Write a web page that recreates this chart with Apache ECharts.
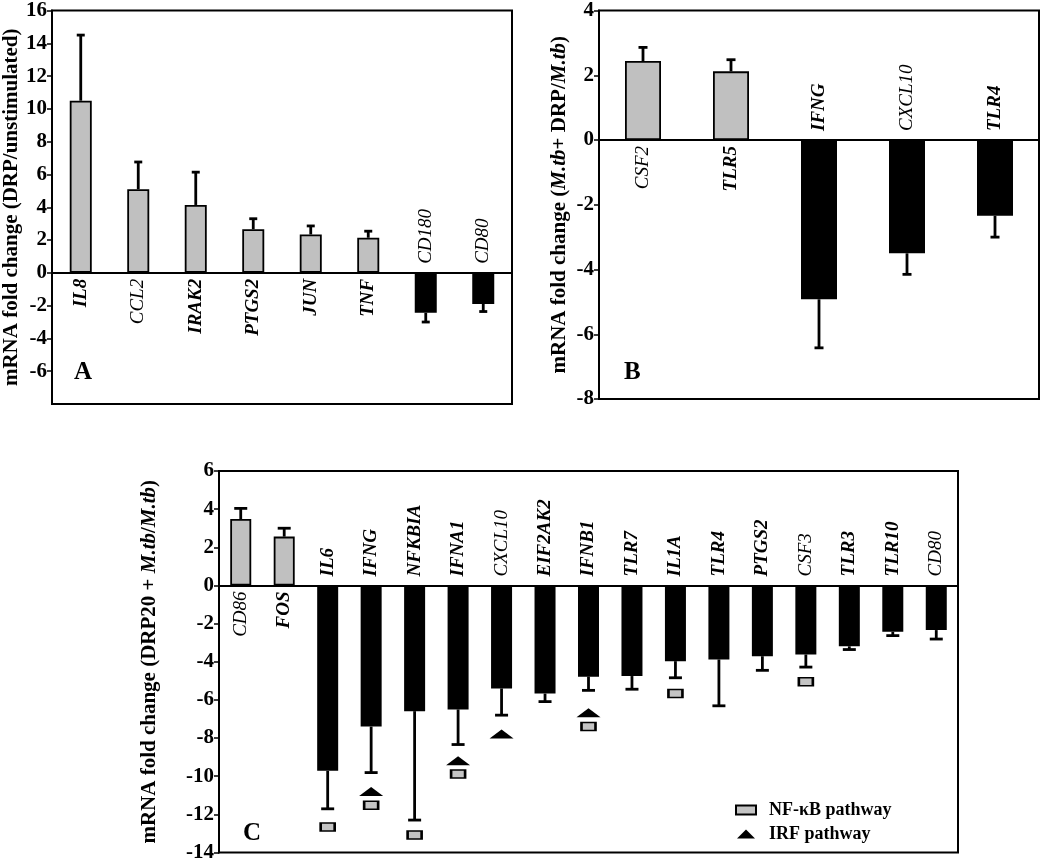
<!DOCTYPE html>
<html>
<head>
<meta charset="utf-8">
<script src="https://cdn.jsdelivr.net/npm/echarts@6/dist/echarts.min.js"></script>
<style>html,body{margin:0;padding:0;background:#fff}#c{width:1050px;height:863px}</style>
</head>
<body>
<div id="c"></div>
<script>
// ---- Data ----
const catsA = ['IL8','CCL2','IRAK2','PTGS2','JUN','TNF','CD180','CD80'];
const valsA = [10.5, 5.1, 4.14, 2.66, 2.34, 2.14, -2.44, -1.9];
const errA  = [14.5, 6.76, 6.14, 3.3, 2.86, 2.54, -3.0, -2.36];

const catsB = ['CSF2','TLR5','IFNG','CXCL10','TLR4'];
const valsB = [2.44, 2.12, -4.92, -3.5, -2.34];
const errB  = [2.86, 2.48, -6.42, -4.15, -3.0];

const catsC = ['CD86','FOS','IL6','IFNG','NFKBIA','IFNA1','CXCL10','EIF2AK2','IFNB1','TLR7','IL1A','TLR4','PTGS2','CSF3','TLR3','TLR10','CD80'];
const valsC = [3.48, 2.56, -9.72, -7.40, -6.59, -6.50, -5.40, -5.67, -4.78, -4.75, -3.97, -3.88, -3.71, -3.62, -3.19, -2.43, -2.34];
const errC  = [4.04, 3.0, -11.71, -9.81, -12.3, -8.34, -6.80, -6.09, -5.5, -5.44, -4.84, -6.31, -4.45, -4.28, -3.36, -2.63, -2.81];

const nfkbC = [['IL6', -12.66], ['IFNG', -11.52], ['NFKBIA', -13.08], ['IFNA1', -9.88], ['IFNB1', -7.40], ['IL1A', -5.66], ['CSF3', -5.05]];
const irfC  = [['IFNG', -10.8], ['IFNA1', -9.19], ['CXCL10', -7.79], ['IFNB1', -6.68]];

const yNames = [
  'mRNA fold change (DRP/unstimulated)',
  'mRNA fold change ({i|M.tb}+ DRP/{i|M.tb})',
  'mRNA fold change (DRP20 + {i|M.tb}/{i|M.tb})'
];
const panelLetters = ['A', 'B', 'C'];
const legendNames = ['NF-\u03baB pathway', 'IRF pathway'];

// ---- Styles ----
const FONT = '"Liberation Serif", "Times New Roman", serif';
const lightLabels = new Set(['CCL2','CD180','CSF2','CXCL10','CD86','CSF3','CD80']);
const GRAY = '#c0c0c0';
const TRI = 'path://M0,10 L10,0 L20,10 Z';

const grids = [
  {left: 48, top: 7, width: 464, height: 397},
  {left: 599, top: 8, width: 440, height: 391},
  {left: 219, top: 471, width: 739, height: 385}
].map(g => Object.assign(g, {show: true, borderColor: '#000', borderWidth: 2, backgroundColor: 'transparent'}));

const panels = [
  {cats: catsA, vals: valsA, err: errA, min: -8, max: 16, barWidth: 22, cap: 4, gap: 30},
  {cats: catsB, vals: valsB, err: errB, min: -8, max: 4, barWidth: 36, cap: 4.5, gap: 29},
  {cats: catsC, vals: valsC, err: errC, min: -14, max: 6, barWidth: 21, cap: 6.5, gap: 59}
];

const xAxis = [], yAxis = [], series = [];
panels.forEach((p, k) => {
  xAxis.push({
    gridIndex: k, type: 'category', data: p.cats,
    axisLine: {onZero: true, lineStyle: {color: '#000', width: 2}},
    axisTick: {inside: true, length: 5, lineStyle: {color: '#000', width: 1.5}},
    axisLabel: {show: false}, splitLine: {show: false}
  });
  yAxis.push({
    gridIndex: k, type: 'value', min: p.min, max: p.max, interval: 2,
    axisLine: {show: true, lineStyle: {color: '#000', width: 2}},
    axisTick: {show: true, length: 5, lineStyle: {color: '#000', width: 1.5}},
    axisLabel: {fontFamily: FONT, fontWeight: 'bold', fontSize: 21, color: '#000', margin: 5, showMinLabel: k !== 0},
    splitLine: {show: false},
    name: yNames[k], nameLocation: 'middle', nameGap: p.gap,
    nameTextStyle: {fontFamily: FONT, fontWeight: 'bold', fontSize: 21, color: '#000',
      rich: {i: {fontFamily: FONT, fontWeight: 'bold', fontStyle: 'italic', fontSize: 21, color: '#000'}}}
  });
  series.push({
    type: 'bar', xAxisIndex: k, yAxisIndex: k, data: p.vals, barWidth: p.barWidth,
    itemStyle: {color: (q) => q.value >= 0 ? GRAY : '#000', borderColor: '#000', borderWidth: 1.8},
    z: 3, silent: true
  });
  series.push({
    type: 'custom', xAxisIndex: k, yAxisIndex: k, z: 2, silent: true,
    data: p.vals.map((v, i) => [i, v, p.err[i]]),
    encode: {x: 0, y: [1, 2]},
    renderItem: (params, api) => {
      const a = api.coord([api.value(0), api.value(1)]);
      const b = api.coord([api.value(0), api.value(2)]);
      const st = {stroke: '#000', lineWidth: 2.8};
      return {type: 'group', children: [
        {type: 'line', shape: {x1: a[0], y1: a[1], x2: b[0], y2: b[1]}, style: st},
        {type: 'line', shape: {x1: b[0] - p.cap, y1: b[1], x2: b[0] + p.cap, y2: b[1]}, style: st}
      ]};
    }
  });
  series.push({
    type: 'custom', xAxisIndex: k, yAxisIndex: k, z: 4, silent: true,
    data: p.cats.map((c, i) => [i, 0]),
    encode: {x: 0, y: 1},
    renderItem: (params, api) => {
      const i = params.dataIndex;
      const pt = api.coord([i, 0]);
      const pos = p.vals[i] >= 0;
      const w = lightLabels.has(p.cats[i]) ? 'normal' : 'bold';
      return {type: 'text', x: pt[0], y: pos ? pt[1] + 6 : pt[1] - 9, rotation: Math.PI / 2,
        style: {text: p.cats[i], fill: '#000', font: 'italic ' + w + ' 19px ' + FONT,
          align: pos ? 'right' : 'left', verticalAlign: 'middle'}};
    }
  });
});

series.push({
  name: legendNames[0], type: 'scatter', xAxisIndex: 2, yAxisIndex: 2, z: 5, silent: true,
  symbol: 'rect', symbolSize: [14, 8],
  itemStyle: {color: '#c4c4c4', borderColor: '#000', borderWidth: 2, opacity: 1},
  data: nfkbC
});
series.push({
  name: legendNames[1], type: 'scatter', xAxisIndex: 2, yAxisIndex: 2, z: 5, silent: true,
  symbol: TRI, symbolSize: [24, 9],
  itemStyle: {color: '#000', opacity: 1},
  data: irfC
});

const letterPos = [[74, 360], [624, 360], [243, 821]];
const graphic = panelLetters.map((t, k) => ({
  type: 'text', left: letterPos[k][0], top: letterPos[k][1],
  style: {text: t, font: 'bold 25px ' + FONT, fill: '#000'}
}));

const chart = echarts.init(document.getElementById('c'), null, {renderer: 'canvas'});
chart.setOption({
  animation: false,
  backgroundColor: '#fff',
  grid: grids, xAxis, yAxis, series, graphic,
  legend: {
    left: 730, top: 796, orient: 'vertical', itemWidth: 20, itemHeight: 9, itemGap: 6,
    selectedMode: false,
    textStyle: {fontFamily: FONT, fontWeight: 'bold', fontSize: 18, color: '#000', padding: [0, 0, 0, 8]},
    data: [{name: legendNames[0], icon: 'rect'}, {name: legendNames[1], icon: TRI}]
  }
});
</script>
</body>
</html>
